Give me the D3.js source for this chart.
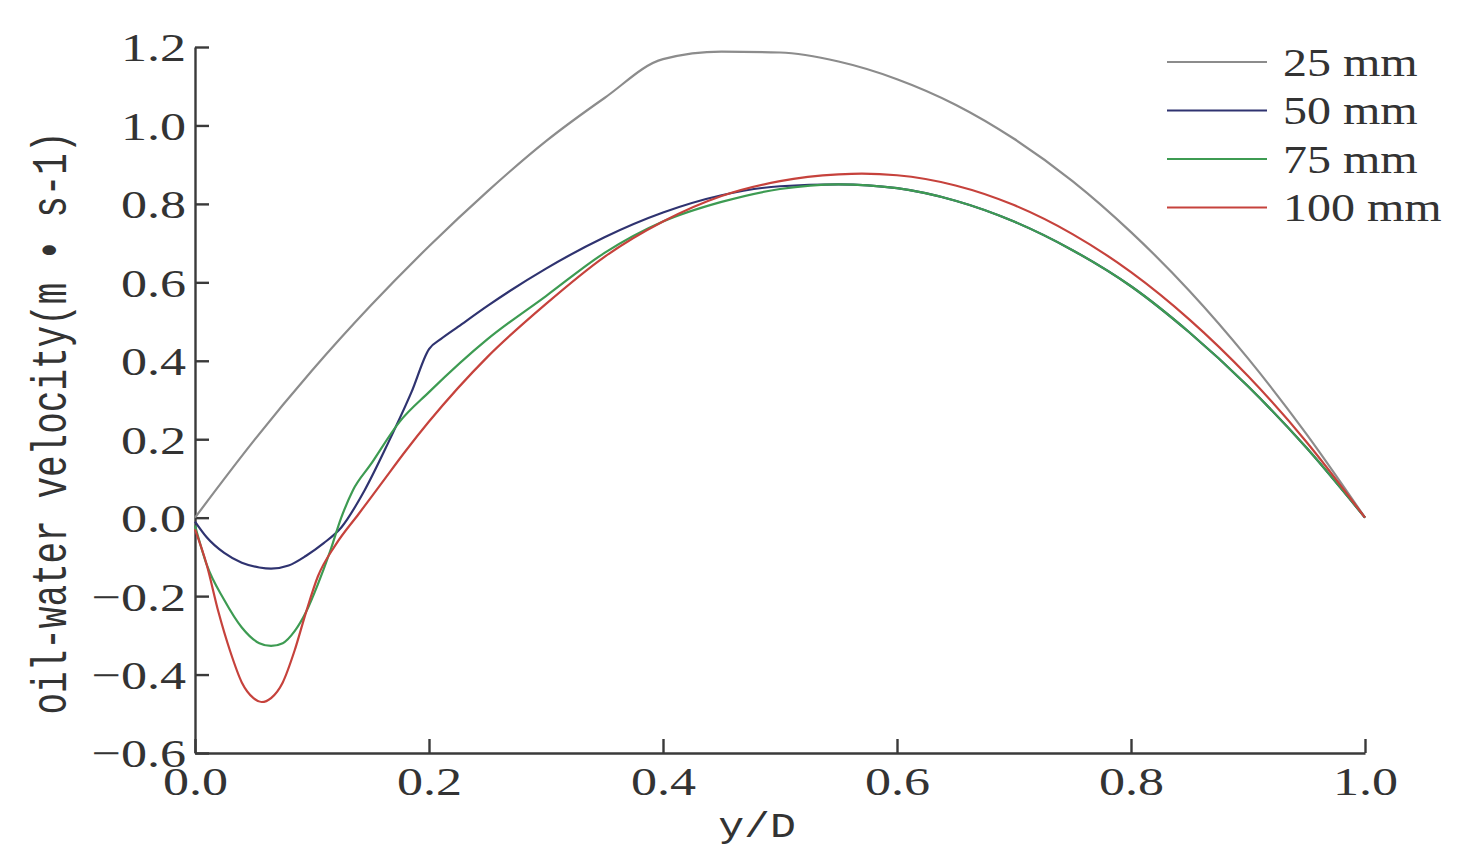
<!DOCTYPE html>
<html>
<head>
<meta charset="utf-8">
<script src="https://cdn.jsdelivr.net/npm/d3@7"></script>
<style>
  body { margin: 0; background: #fff; }
  svg { display: block; }
</style>
</head>
<body>
<svg width="1472" height="862"></svg>
<script>
// y/D positions and velocities (m/s)
var x25 = [0, 0.05, 0.1, 0.15, 0.2, 0.25, 0.3, 0.35, 0.4, 0.45, 0.5, 0.55, 0.6, 0.65, 0.7, 0.75, 0.8, 0.85, 0.9, 0.95, 1.0];
var v25 = [0, 0.195, 0.375, 0.54, 0.692, 0.832, 0.96, 1.07, 1.169, 1.188, 1.186, 1.163, 1.118, 1.053, 0.966, 0.858, 0.728, 0.578, 0.406, 0.213, 0];

var x50 = [0, 0.01, 0.025, 0.04, 0.055, 0.065, 0.08, 0.095, 0.11, 0.125, 0.145, 0.165, 0.185, 0.2, 0.21, 0.225, 0.25, 0.3, 0.35, 0.4, 0.45, 0.5, 0.55, 0.6, 0.65, 0.7, 0.75, 0.8, 0.85, 0.9, 0.95, 1.0];
var v50 = [-0.01, -0.05, -0.09, -0.115, -0.127, -0.13, -0.122, -0.097, -0.065, -0.025, 0.07, 0.19, 0.32, 0.43, 0.455, 0.487, 0.54, 0.635, 0.715, 0.778, 0.822, 0.845, 0.85, 0.84, 0.808, 0.755, 0.682, 0.59, 0.472, 0.335, 0.178, 0];

var x75 = [0, 0.01, 0.025, 0.04, 0.055, 0.065, 0.075, 0.085, 0.095, 0.105, 0.115, 0.125, 0.135, 0.15, 0.175, 0.2, 0.25, 0.3, 0.35, 0.4, 0.45, 0.5, 0.55, 0.6, 0.65, 0.7, 0.75, 0.8, 0.85, 0.9, 0.95, 1.0];
var v75 = [-0.02, -0.12, -0.21, -0.28, -0.32, -0.327, -0.32, -0.29, -0.24, -0.17, -0.09, 0.0, 0.07, 0.135, 0.245, 0.32, 0.455, 0.565, 0.675, 0.755, 0.805, 0.838, 0.85, 0.84, 0.808, 0.755, 0.682, 0.59, 0.472, 0.335, 0.178, 0];

var x100 = [0, 0.01, 0.02, 0.03, 0.04, 0.05, 0.057, 0.065, 0.075, 0.085, 0.095, 0.105, 0.12, 0.14, 0.16, 0.18, 0.2, 0.25, 0.3, 0.35, 0.4, 0.45, 0.5, 0.55, 0.57, 0.6, 0.65, 0.7, 0.75, 0.8, 0.85, 0.9, 0.95, 1.0];
var v100 = [-0.03, -0.12, -0.24, -0.34, -0.42, -0.46, -0.47, -0.46, -0.42, -0.34, -0.24, -0.15, -0.07, 0.01, 0.09, 0.17, 0.245, 0.41, 0.545, 0.665, 0.755, 0.82, 0.858, 0.875, 0.877, 0.873, 0.847, 0.797, 0.723, 0.626, 0.505, 0.361, 0.193, 0];

var seriesNames = ["25 mm", "50 mm", "75 mm", "100 mm"];
var seriesColors = ["#8c8c8c", "#2f3370", "#3d9b52", "#c6423c"];
var xTicks = [0, 0.2, 0.4, 0.6, 0.8, 1.0];
var yTicks = [-0.6, -0.4, -0.2, 0, 0.2, 0.4, 0.6, 0.8, 1.0, 1.2];

function zip(xs, vs) {
  return xs.map(function (d, i) { return [d, vs[i]]; });
}

function init() {
  var series = [zip(x25, v25), zip(x50, v50), zip(x75, v75), zip(x100, v100)];

  var svg = d3.select("svg"),
      margin = {top: 47, right: 107, bottom: 109, left: 195},
      width = +svg.attr("width") - margin.left - margin.right,
      height = +svg.attr("height") - margin.top - margin.bottom;

  var x = d3.scaleLinear().domain([0, 1]).range([0, width]);
  var y = d3.scaleLinear().domain([-0.6, 1.2]).range([height, 0]);

  var g = svg.append("g")
      .attr("transform", "translate(" + margin.left + "," + margin.top + ")");

  var stretch = 1.27;

  // axes, ticks pointing inward
  var yAxis = g.append("g")
      .call(d3.axisLeft(y).tickValues(yTicks).tickSize(-14).tickSizeOuter(0).tickFormat(d3.format(".1f")));
  yAxis.selectAll("text")
      .attr("x", -9 / stretch)
      .attr("dy", "0.34em")
      .attr("transform", "scale(" + stretch + ",1)");

  var xAxis = g.append("g")
      .attr("transform", "translate(0," + height + ")")
      .call(d3.axisBottom(x).tickValues(xTicks).tickSize(-14).tickSizeOuter(0).tickFormat(d3.format(".1f")));
  xAxis.selectAll("text")
      .attr("y", 42)
      .attr("dy", 0)
      .attr("transform", "scale(" + stretch + ",1)");

  g.selectAll(".domain, .tick line")
      .attr("stroke", "#3a3a3a")
      .attr("stroke-width", 2.4);
  g.selectAll(".tick text")
      .attr("fill", "#333")
      .style("font-family", "'Liberation Serif', 'Times New Roman', serif")
      .style("font-size", "41px");

  // curves
  var line = d3.line()
      .x(function (d) { return x(d[0]); })
      .y(function (d) { return y(d[1]); })
      .curve(d3.curveMonotoneX);

  g.selectAll(".curve")
      .data(series)
    .enter().append("path")
      .attr("class", "curve")
      .attr("fill", "none")
      .attr("stroke", function (d, i) { return seriesColors[i]; })
      .attr("stroke-width", 2.2)
      .attr("d", line);

  // axis titles
  svg.append("text")
      .attr("transform", "translate(66,423) scale(1.4,1) rotate(-90)")
      .attr("text-anchor", "middle")
      .attr("fill", "#333")
      .style("font-family", "'Liberation Mono', 'Courier New', monospace")
      .style("font-size", "36px")
      .text("oil-water velocity(m • s-1)");

  svg.append("text")
      .attr("transform", "translate(757,837) scale(1.2,1)")
      .attr("text-anchor", "middle")
      .attr("fill", "#333")
      .style("font-family", "'Liberation Mono', 'Courier New', monospace")
      .style("font-size", "36px")
      .text("y/D");

  // legend
  var legend = svg.append("g")
      .attr("transform", "translate(1167,62)");
  var item = legend.selectAll(".item")
      .data(seriesNames)
    .enter().append("g")
      .attr("class", "item")
      .attr("transform", function (d, i) { return "translate(0," + (i * 48.5) + ")"; });
  item.append("line")
      .attr("x1", 0).attr("x2", 100)
      .attr("stroke", function (d, i) { return seriesColors[i]; })
      .attr("stroke-width", 2.2);
  item.append("text")
      .attr("transform", "translate(116,0) scale(1.2,1)")
      .attr("dy", "0.34em")
      .attr("fill", "#333")
      .style("font-family", "'Liberation Serif', 'Times New Roman', serif")
      .style("font-size", "40px")
      .text(function (d) { return d; });
}

window.onload = init;
</script>
</body>
</html>
